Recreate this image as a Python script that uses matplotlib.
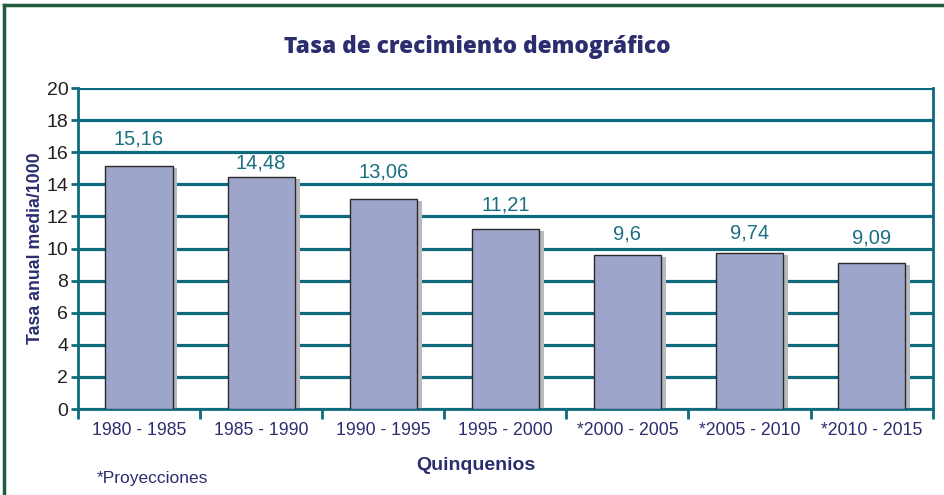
import numpy as np
import matplotlib
matplotlib.use('Agg')
import matplotlib.pyplot as plt
from matplotlib.lines import Line2D

# data
periods = ['1980 - 1985', '1985 - 1990', '1990 - 1995', '1995 - 2000',
           '*2000 - 2005', '*2005 - 2010', '*2010 - 2015']
rates = [15.16, 14.48, 13.06, 11.21, 9.6, 9.74, 9.09]
rate_labels = ['15,16', '14,48', '13,06', '11,21', '9,6', '9,74', '9,09']
y_ticks = list(range(0, 21, 2))

# styling
navy = '#2b2d6e'
teal = '#0e6a7d'
bar_color = '#9ea5ca'
shadow_color = '#b8babe'
frame_green = '#1f5b3c'
label_offsets = [27, 14, 27, 24, 21, 20, 25]  # px above bar top

plt.rcParams['font.family'] = ['Liberation Sans', 'DejaVu Sans']

fig = plt.figure(figsize=(9.44, 4.95), dpi=100)
ax = fig.add_axes([0.0826, 0.1737, 0.9054, 0.6485])

x = np.arange(len(periods))
w = 0.55

# shadow then bar
ax.bar(x + 0.04, np.array(rates) - 0.12, width=w, color=shadow_color, zorder=2, linewidth=0)
ax.bar(x, rates, width=w, color=bar_color, edgecolor='#2a2a2a', linewidth=1.0, zorder=3)

for xi, v, lab, off in zip(x, rates, rate_labels, label_offsets):
    ax.annotate(lab, (xi, v), xytext=(0, off), textcoords='offset pixels',
                ha='center', va='center', fontsize=14.5, color='#1a6f82')

ax.set_xlim(-0.5, len(periods) - 0.5)
ax.set_ylim(0, 20)
ax.set_yticks(y_ticks)
ax.set_yticklabels([str(t) for t in y_ticks], fontsize=14, color='#231f20')
ax.yaxis.grid(True, color=teal, linewidth=2.3, zorder=1)
ax.set_axisbelow(True)

ax.set_xticks(x)
ax.set_xticklabels(periods, fontsize=12.7, color=navy)
ax.set_xticks(np.arange(-0.5, len(periods)), minor=True)
ax.tick_params(axis='x', which='major', length=0, pad=9)
ax.tick_params(axis='x', which='minor', length=7, width=2, color=teal)
ax.tick_params(axis='y', length=5, width=2, color=teal, pad=2)

for side in ['left', 'right', 'bottom']:
    ax.spines[side].set_color(teal)
    ax.spines[side].set_linewidth(2)
ax.spines['top'].set_visible(False)

ax.set_ylabel('Tasa anual media/1000', fontsize=12.8, fontweight='bold', color=navy, labelpad=2)

fig.text(0.5055, 0.905, 'Tasa de crecimiento demográfico', ha='center', va='center',
         fontsize=16.3, fontweight=800, color=navy, family=['Open Sans', 'DejaVu Sans'])
fig.text(476 / 944, 1 - 465 / 495, 'Quinquenios', ha='center', va='center',
         fontsize=14, fontweight='bold', color=navy)
fig.text(0.102, 1 - 479 / 495, '*Proyecciones', ha='left', va='center', fontsize=12.5, color=navy)

# outer frame (top and left edges)
fig.add_artist(Line2D([4 / 944, 1.0], [1 - 5 / 495, 1 - 5 / 495], color=frame_green, linewidth=2.5))
fig.add_artist(Line2D([4 / 944, 4 / 944], [0, 1 - 5 / 495], color=frame_green, linewidth=2.5))

fig.savefig('out.png', dpi=100)
